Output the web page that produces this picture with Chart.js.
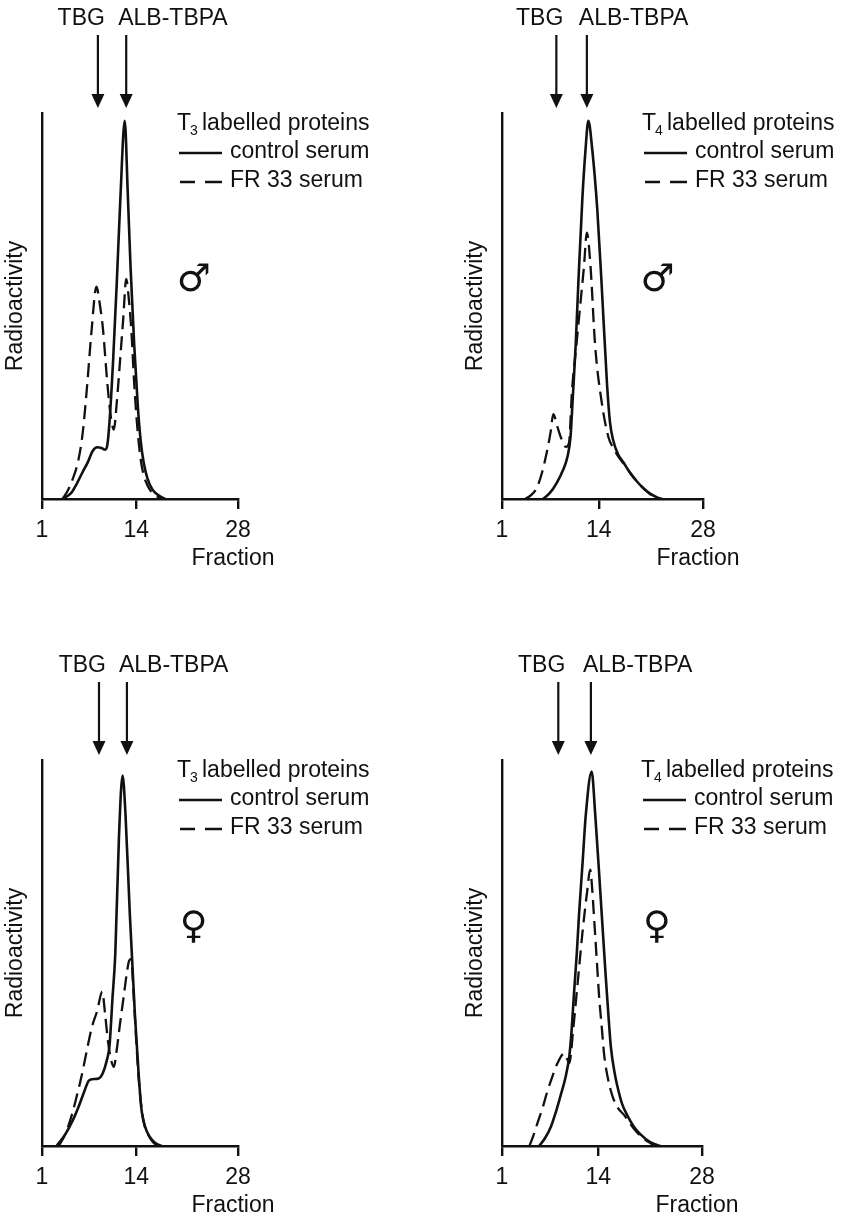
<!DOCTYPE html>
<html>
<head>
<meta charset="utf-8">
<script src="https://cdn.jsdelivr.net/npm/chart.js@4.4.1/dist/chart.umd.min.js"></script>
<style>
  body { margin: 0; background: #fff; }
  #wrap { position: relative; width: 859px; height: 1219px; }
  canvas { position: absolute; }
</style>
</head>
<body>
<div id="wrap">
  <canvas id="c1" width="430" height="600" style="left:0;top:0"></canvas>
  <canvas id="c2" width="399" height="600" style="left:460px;top:0"></canvas>
  <canvas id="c3" width="430" height="572" style="left:0;top:647px"></canvas>
  <canvas id="c4" width="399" height="572" style="left:460px;top:647px"></canvas>
</div>
<script>
const fractionTicks = [1, 14, 28]

// [fraction, radioactivity], radioactivity 0-100 of axis height
const t3MaleControl = [[3.8,0],[5.0,1.5],[5.8,4],[6.6,7],[7.3,9.5],[8.0,12.5],[8.6,13.4],[9.2,13.2],[9.7,12.8],[10.0,14],[10.3,20],[10.8,36],[11.3,56],[11.8,78],[12.4,98],[12.8,80],[13.2,60],[13.7,40],[14.2,24],[14.6,15],[15.0,9.5],[15.5,5.5],[16.2,2.5],[17.0,1],[18.0,0]]
const t3MaleFr33 = [[3.8,0],[4.5,2],[5.2,5],[6.0,10],[6.6,17],[7.2,29],[7.8,43],[8.5,55],[9.0,50],[9.4,44],[10.0,30],[10.5,21],[10.9,18],[11.3,25],[11.8,37],[12.2,47],[12.6,57],[13.0,51],[13.3,44],[13.7,30],[14.2,17],[14.7,9],[15.3,4.5],[16.0,2],[17.0,0.5],[17.6,0]]

const t4MaleControl = [[6.5,0],[7.4,1.5],[8.3,4],[9.2,7.5],[9.8,11],[10.2,16],[10.5,26],[10.9,40],[11.3,58],[11.8,78],[12.2,90],[12.6,98],[13.1,91],[13.8,75],[14.4,55],[15.1,30],[15.5,20],[15.9,15.5],[16.6,11.5],[17.3,9.5],[18.2,6.8],[19.1,4.6],[20.0,2.8],[20.9,1.4],[22.0,0.3],[22.6,0]]
const t4MaleFr33 = [[4.1,0],[4.9,1],[5.7,3],[6.4,7],[7.0,12],[7.5,17],[7.9,22],[8.4,19],[9.0,15.5],[9.6,13.5],[10.0,14.5],[10.4,28],[11.0,40],[11.6,52],[12.0,60],[12.4,69],[12.9,60],[13.5,40],[14.4,25],[15.3,16],[16.0,13],[16.8,10.5],[17.6,8.5],[18.4,6.3],[19.3,4.2],[20.2,2.4],[21.0,1.1],[22.0,0]]

const t3FemaleControl = [[3.0,0],[4.2,3],[5.2,6.5],[6.0,10],[6.8,14],[7.4,16.8],[7.9,17.3],[8.8,17.5],[9.4,19],[9.9,22],[10.3,26],[10.7,38],[11.1,50],[11.6,80],[12.1,96],[12.5,86],[13.1,60],[13.8,34],[14.3,19],[14.7,9.5],[15.2,5],[15.8,2.5],[16.6,0.8],[17.5,0]]
const t3FemaleFr33 = [[3.3,0],[4.2,3],[5.1,8],[5.8,13],[6.5,18.5],[7.2,25],[7.9,31],[8.6,35],[9.3,40],[9.7,34],[10.1,27],[10.5,22.5],[10.9,20.5],[11.3,25],[11.7,31],[12.2,38],[12.7,45],[13.0,48],[13.3,48.5],[13.6,40],[13.9,30],[14.3,18],[14.7,10],[15.1,5.5],[15.6,3],[16.3,1],[17.0,0]]

const t4FemaleControl = [[6.0,0],[6.8,2],[7.6,5],[8.3,9],[8.9,13],[9.6,18],[10.1,23.5],[10.4,30],[10.7,39],[11.1,50],[11.4,60],[11.9,74],[12.3,85.5],[13.1,97],[13.6,85.5],[14.3,65],[15.0,44],[15.4,33],[15.7,25.6],[16.2,19],[16.6,15.3],[17.2,11],[17.9,8],[18.8,5],[19.7,3],[21.0,1],[22.4,0]]
const t4FemaleFr33 = [[4.7,0],[5.2,2.5],[5.8,6],[6.5,10],[7.1,14],[7.8,18],[8.5,21.5],[9.4,24],[9.8,22.5],[10.1,21.5],[10.6,30],[11.3,44],[11.9,56],[12.5,66],[12.9,71.6],[13.2,66],[13.4,60],[13.8,48],[14.1,39],[14.5,30],[14.8,23.5],[15.3,17.5],[15.9,13],[16.6,10],[17.5,8],[18.4,5.5],[19.3,3.4],[20.2,1.8],[21.0,0.8],[21.8,0]]

// arrow positions (fraction) for the two protein peaks, one per panel
const tbgFraction = [8.7, 8.3, 8.85, 8.6]
const albFraction = [12.6, 12.4, 12.7, 13.0]

const FONT = '"Liberation Sans", Arial, Helvetica, sans-serif'
const INK = '#111'

const panels = [
    {id: 'c1', hormone: '3', sex: '\u2642', control: t3MaleControl, fr33: t3MaleFr33, padRight: 192, padBottom: 41},
    {id: 'c2', hormone: '4', sex: '\u2642', control: t4MaleControl, fr33: t4MaleFr33, padRight: 156, padBottom: 41},
    {id: 'c3', hormone: '3', sex: '\u2640', control: t3FemaleControl, fr33: t3FemaleFr33, padRight: 192, padBottom: 13},
    {id: 'c4', hormone: '4', sex: '\u2640', control: t4FemaleControl, fr33: t4FemaleFr33, padRight: 157, padBottom: 13},
]

function toPoints(arr) {
    return arr.map(([x, y]) => ({x: x, y: y}))
}

function makeChart(p, i) {
    // text, arrows, legend drawn on top of the plot
    const annotations = {
        id: 'annotations',
        afterDraw(chart) {
            const {ctx, chartArea: a, scales: {x, y}} = chart
            ctx.save()
            ctx.fillStyle = INK
            ctx.strokeStyle = INK
            ctx.textBaseline = 'middle'
            ctx.font = '23px ' + FONT

            // arrows + labels
            const tx = x.getPixelForValue(tbgFraction[i])
            const ax = x.getPixelForValue(albFraction[i])
            ctx.textAlign = 'right'
            ctx.fillText('TBG', tx + 7, a.top - 94)
            ctx.textAlign = 'left'
            ctx.fillText('ALB-TBPA', ax - 8, a.top - 94)
            ctx.lineWidth = 2.2
            for (const px of [tx, ax]) {
                ctx.beginPath()
                ctx.moveTo(px, a.top - 78)
                ctx.lineTo(px, a.top - 16)
                ctx.stroke()
                ctx.beginPath()
                ctx.moveTo(px - 6.5, a.top - 19)
                ctx.lineTo(px + 6.5, a.top - 19)
                ctx.lineTo(px, a.top - 5)
                ctx.closePath()
                ctx.fill()
            }

            // legend
            const lx = a.right - 61
            ctx.textAlign = 'left'
            ctx.fillText('T', lx, a.top + 11)
            ctx.font = '14px ' + FONT
            ctx.fillText(p.hormone, lx + 13, a.top + 18)
            ctx.font = '23px ' + FONT
            ctx.fillText('labelled proteins', lx + 25, a.top + 11)

            ctx.lineWidth = 2.4
            ctx.beginPath()
            ctx.moveTo(lx + 2, a.top + 40)
            ctx.lineTo(lx + 45, a.top + 40)
            ctx.stroke()
            ctx.fillText('control serum', lx + 53, a.top + 39)

            ctx.beginPath()
            ctx.moveTo(lx + 3, a.top + 69)
            ctx.lineTo(lx + 18, a.top + 69)
            ctx.moveTo(lx + 28, a.top + 69)
            ctx.lineTo(lx + 45, a.top + 69)
            ctx.stroke()
            ctx.fillText('FR 33 serum', lx + 53, a.top + 68)

            // sex symbol
            ctx.textAlign = 'center'
            ctx.font = '38px "DejaVu Sans", sans-serif'
            ctx.fillText(p.sex, x.getPixelForValue(21.9), y.getPixelForValue(56.5))

            // axis title
            ctx.font = '23px ' + FONT
            ctx.fillText('Fraction', x.getPixelForValue(28) - 5, a.bottom + 60)
            ctx.restore()
        }
    }

    return new Chart(document.getElementById(p.id), {
        type: 'line',
        data: {
            datasets: [
                {
                    label: 'control serum',
                    data: toPoints(p.control),
                    borderColor: INK,
                    borderWidth: 2.6,
                    cubicInterpolationMode: 'monotone',
                    pointRadius: 0,
                    fill: false
                },
                {
                    label: 'FR 33 serum',
                    data: toPoints(p.fr33),
                    borderColor: INK,
                    borderWidth: 2.3,
                    borderDash: [14, 7],
                    cubicInterpolationMode: 'monotone',
                    pointRadius: 0,
                    fill: false
                }
            ]
        },
        options: {
            responsive: false,
            animation: false,
            layout: {padding: {top: 113, left: 0, right: p.padRight, bottom: p.padBottom}},
            plugins: {legend: {display: false}, tooltip: {enabled: false}},
            scales: {
                x: {
                    type: 'linear',
                    min: 1,
                    max: 28,
                    afterFit: (s) => { s.height = 60 },
                    afterBuildTicks: (s) => { s.ticks = fractionTicks.map(v => ({value: v})) },
                    ticks: {autoSkip: false, maxRotation: 0, padding: 8, color: INK, font: {family: FONT, size: 23}},
                    grid: {display: true, drawOnChartArea: false, drawTicks: true, tickLength: 10, color: INK, lineWidth: 2.4},
                    border: {display: true, color: INK, width: 2.4}
                },
                y: {
                    min: 0,
                    max: 100,
                    afterFit: (s) => { s.width = 42 },
                    ticks: {display: false},
                    grid: {display: false},
                    border: {display: true, color: INK, width: 2.4},
                    title: {display: true, text: 'Radioactivity', color: INK, font: {family: FONT, size: 23}, padding: {top: 2, bottom: 0}}
                }
            }
        },
        plugins: [annotations]
    })
}

panels.forEach(makeChart)
</script>
</body>
</html>
